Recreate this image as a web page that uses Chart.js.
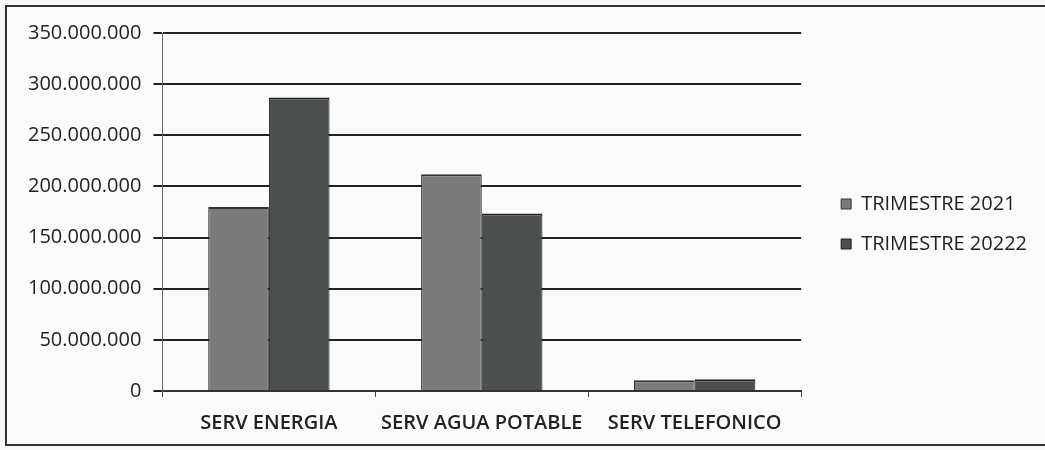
<!DOCTYPE html>
<html>
<head>
<meta charset="utf-8">
<script src="https://cdn.jsdelivr.net/npm/chart.js@4"></script>
<style>
  html, body { margin: 0; padding: 0; background: #f7f7f5; }
  #wrap { position: relative; width: 1045px; height: 450px; overflow: hidden; }
  #frame { position: absolute; left: 5px; top: 5px; width: 1045px; height: 441px; border: 2px solid #333; border-right: none; box-sizing: border-box; background: #fbfbfa; }
  canvas { position: absolute; left: 0; top: 0; }
</style>
</head>
<body>
<div id="wrap">
  <div id="frame"></div>
  <canvas id="c" width="1045" height="450"></canvas>
</div>
<script>
const categories = ["SERV ENERGIA", "SERV AGUA POTABLE", "SERV TELEFONICO"];
const seriesNames = ["TRIMESTRE 2021", "TRIMESTRE 20222"];
const values2021 = [180000000, 212000000, 10500000];
const values2022 = [287000000, 173500000, 11500000];
const yTicks = [0, 50000000, 100000000, 150000000, 200000000, 250000000, 300000000, 350000000];

const fmt = v => v.toLocaleString('de-DE');

const LEGEND_GAP = 20;
const LEGEND_DY = -17;
const legendGap = {
  id: 'legendGap',
  afterInit(chart) {
    const lg = chart.legend;
    if (!lg) return;
    const fit = lg.fit, draw = lg.draw;
    lg.fit = function () { fit.call(this); this.width += LEGEND_GAP; };
    lg.draw = function () {
      this.left += LEGEND_GAP; this.top += LEGEND_DY; this.bottom += LEGEND_DY;
      draw.call(this);
      this.left -= LEGEND_GAP; this.top -= LEGEND_DY; this.bottom -= LEGEND_DY;
    };
  }
};

new Chart(document.getElementById('c'), {
  type: 'bar',
  data: {
    labels: categories,
    datasets: [
      { label: seriesNames[0], data: values2021, backgroundColor: '#7a7c7a', borderColor: '#333', borderWidth: { top: 2, left: 1, right: 1, bottom: 0 }, categoryPercentage: 0.57, barPercentage: 1.0 },
      { label: seriesNames[1], data: values2022, backgroundColor: '#4b504d', borderColor: '#222', borderWidth: { top: 2, left: 1, right: 1, bottom: 0 }, categoryPercentage: 0.57, barPercentage: 1.0 }
    ]
  },
  plugins: [legendGap],
  options: {
    responsive: false,
    animation: false,
    layout: { padding: { top: 33, left: 16, right: 8, bottom: 1 } },
    plugins: {
      tooltip: { enabled: false },
      legend: {
        position: 'right',
        align: 'center',
        labels: {
          font: { family: 'Open Sans', size: 20 },
          color: '#222',
          boxWidth: 10, boxHeight: 10,
          padding: 20
        }
      }
    },
    scales: {
      x: {
        grid: { display: true, drawOnChartArea: false, offset: true, color: '#444', tickLength: 6 },
        border: { display: true, color: '#333', width: 2 },
        ticks: { font: { family: 'Open Sans', size: 20, weight: '600' }, color: '#222', padding: 14 },
      },
      y: {
        min: 0, max: 350000000,
        afterBuildTicks: axis => { axis.ticks = yTicks.map(v => ({ value: v })); },
        grid: { color: '#222', lineWidth: 2, tickLength: 9 },
        border: { display: true, color: '#666', width: 1 },
        ticks: { font: { family: 'Open Sans', size: 20 }, color: '#222', padding: 12, callback: v => fmt(v) }
      }
    }
  }
});
</script>
</body>
</html>
